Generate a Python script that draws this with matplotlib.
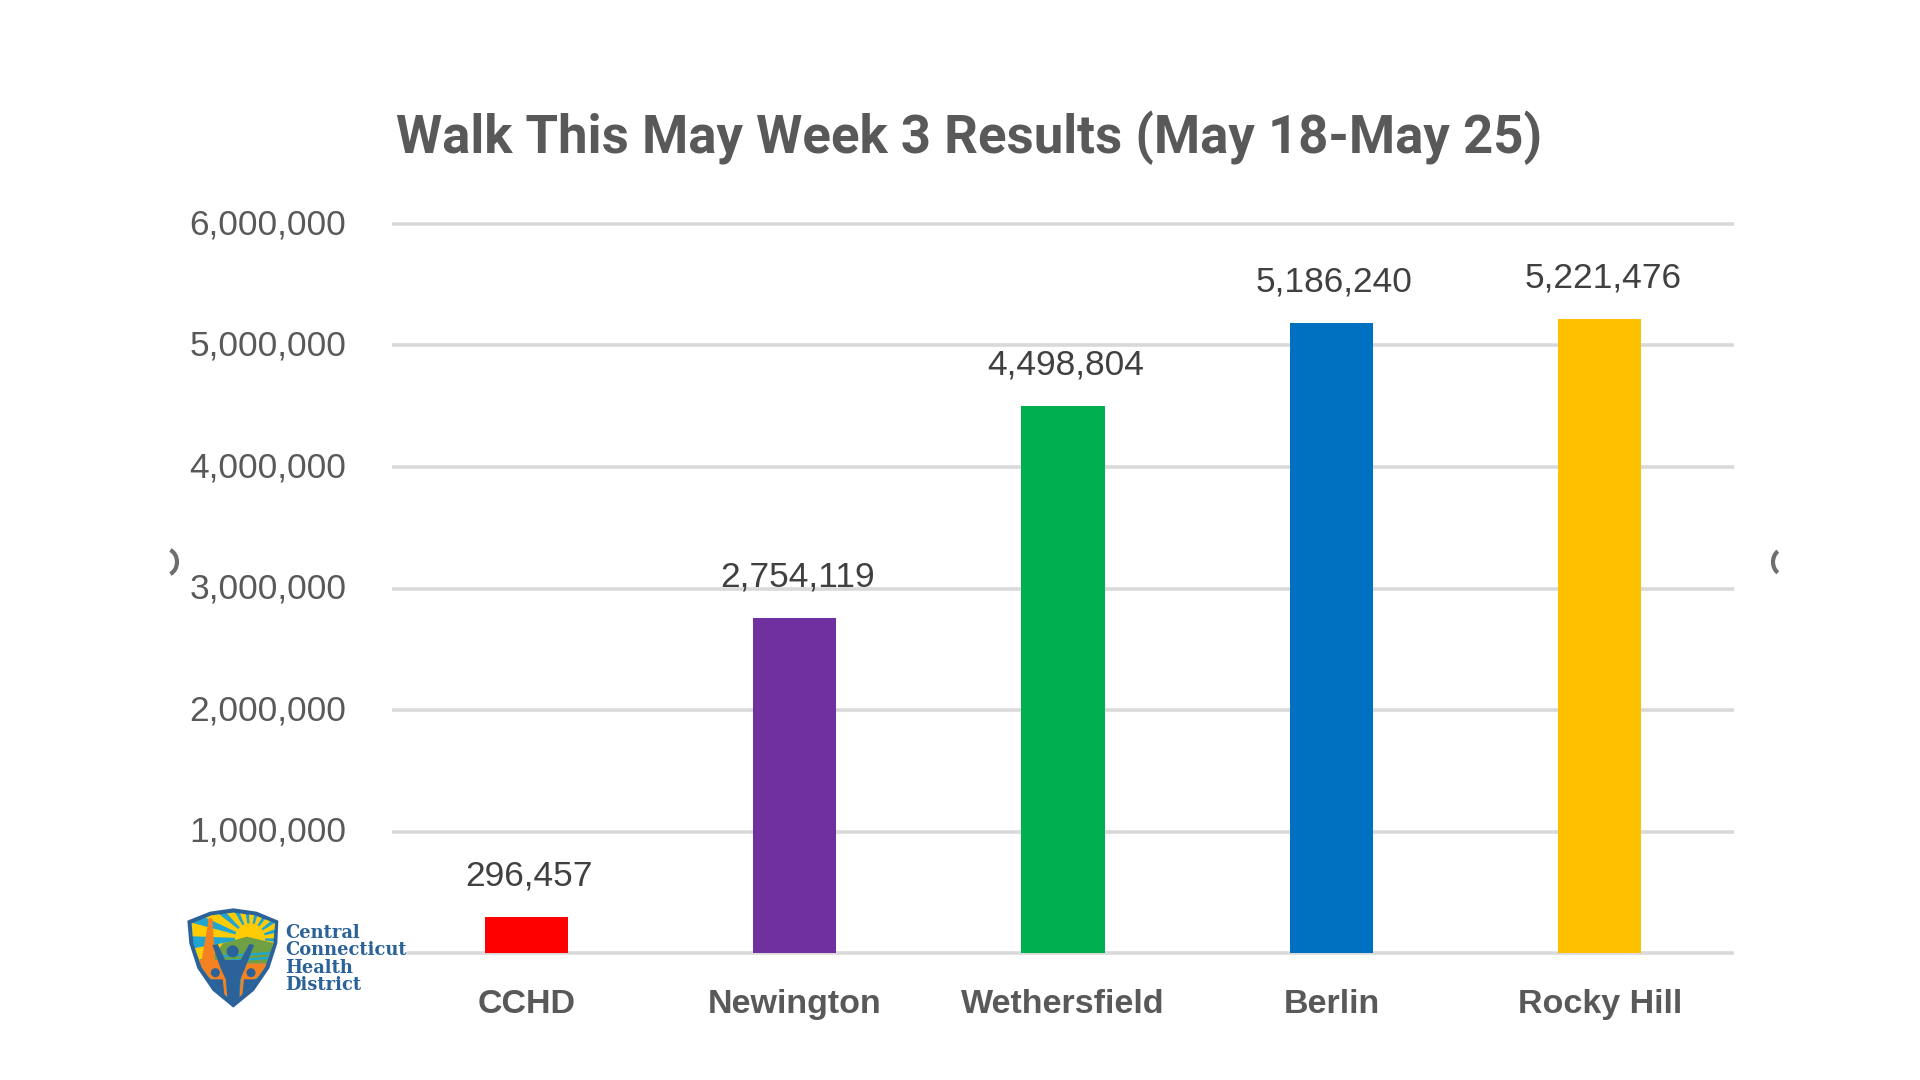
import matplotlib
matplotlib.use("Agg")
import matplotlib.pyplot as plt
from matplotlib.patches import Arc, Circle, Polygon, Wedge
from matplotlib.ticker import FuncFormatter
from matplotlib.transforms import ScaledTranslation

towns = ["CCHD", "Newington", "Wethersfield", "Berlin", "Rocky Hill"]
steps = [296457, 2754119, 4498804, 5186240, 5221476]
bar_colors = ["#FF0000", "#7030A0", "#00B050", "#0070C0", "#FFC000"]
y_ticks = [0, 1000000, 2000000, 3000000, 4000000, 5000000, 6000000]
title = "Walk This May Week 3 Results (May 18-May 25)"
logo_lines = ["Central", "Connecticut", "Health", "District"]

GREY = "#595959"
LOGO_BLUE = "#2B6299"
ORANGE = "#F58220"
YELLOW = "#FFCB05"
SKY = "#1FA5D0"
GREEN = "#6FA043"

W, H = 1920, 1080
fig = plt.figure(figsize=(W / 100, H / 100), dpi=100, facecolor="white")
ax = fig.add_axes([392 / W, (H - 953) / H, (1734 - 392) / W, (953 - 224) / H])

ax.bar(towns, steps, width=0.31, color=bar_colors, zorder=3)
ax.set_xlim(-0.5, 4.5)
ax.set_ylim(0, 6000000)
ax.set_yticks(y_ticks)
ax.yaxis.set_major_formatter(FuncFormatter(lambda v, _: f"{int(v):,}"))

ax.grid(axis="y", color="#D9D9D9", lw=2.6, zorder=0, clip_on=False, solid_capstyle="butt")
ax.set_axisbelow(True)
for s in ax.spines.values():
    s.set_visible(False)
ax.tick_params(axis="both", length=0)
ax.tick_params(axis="y", pad=33, labelsize=25.5, labelcolor=GREY)
ax.tick_params(axis="x", pad=26, labelcolor=GREY)
up = ScaledTranslation(0, 2 / 72, fig.dpi_scale_trans)
for lab in ax.get_yticklabels():
    lab.set_fontfamily("Liberation Sans")
    lab.set_transform(lab.get_transform() + up)
for lab in ax.get_xticklabels():
    lab.set_fontfamily("Liberation Sans")
    lab.set_fontweight("bold")
    lab.set_fontsize(24.5)
ax.get_yticklabels()[0].set_visible(False)

for i, v in enumerate(steps):
    ax.annotate(f"{v:,}", (i, v), xytext=(3, 41), textcoords="offset pixels",
                ha="center", va="center", fontsize=25.5, color="#404040",
                family="Liberation Sans", zorder=5)

fig.text(969 / W, 1 - 138 / H, title, ha="center", va="center", fontsize=38,
         fontweight="bold", family="Roboto", color=GREY)

# overlay in pixel coordinates for the logo and the stray marks at the image edges
ov = fig.add_axes([0, 0, 1, 1], facecolor="none", zorder=10)
ov.set_xlim(0, W)
ov.set_ylim(H, 0)
ov.axis("off")


def lg(x, y):
    # logo was measured on a 3x crop starting at (150, 880)
    return 150 + x / 3, 880 + y / 3


def poly(points, color, z=1, clip=None):
    p = Polygon([lg(*q) for q in points], closed=True, fc=color, ec="none", zorder=z)
    ov.add_patch(p)
    if clip is not None:
        p.set_clip_path(clip)
    return p


# white box hides the start of the baseline behind the logo text
ov.add_patch(Polygon([(180, 915), (407, 915), (407, 1015), (180, 1015)], fc="white", ec="none", zorder=0))

outer = [(112, 122), (180, 95), (250, 85), (320, 95), (385, 122), (382, 190), (358, 265),
         (312, 332), (250, 383), (188, 332), (142, 265), (118, 190)]
inner = [(125, 130), (185, 106), (250, 98), (315, 106), (375, 130), (370, 190), (345, 262),
         (302, 322), (250, 366), (198, 322), (155, 262), (130, 190)]
poly(outer, LOGO_BLUE, 1)
shield = poly(inner, SKY, 2)

sx, sy = lg(300, 175)
for a1, a2 in [(-205, -190), (-178, -165), (-155, -142), (-133, -120), (-112, -100),
               (-92, -80), (-72, -60), (-52, -40), (-32, -20), (-12, 0), (8, 20)]:
    w = Wedge((sx, sy), 90, a1, a2, fc=YELLOW, ec="none", zorder=3)
    ov.add_patch(w)
    w.set_clip_path(shield)
ov.add_patch(Circle((sx, sy), 15, fc=YELLOW, ec="none", zorder=3))

poly([(130, 245), (190, 225), (220, 190), (290, 170), (375, 190), (370, 250), (250, 250)], GREEN, 4, shield)
poly([(215, 225), (375, 215), (372, 222), (215, 232)], SKY, 5, shield)
poly([(215, 240), (365, 230), (362, 237), (215, 247)], SKY, 5, shield)

# orange ground either side of the figure, with thin strips running down
poly([(130, 240), (222, 240), (232, 352), (224, 352), (218, 298), (185, 298), (160, 280)], ORANGE, 5, shield)
poly([(278, 250), (360, 250), (335, 285), (312, 298), (282, 298), (276, 352), (268, 352)], ORANGE, 5, shield)
poly([(155, 240), (175, 125), (188, 125), (195, 240)], ORANGE, 6)
ov.add_patch(Circle(lg(181, 122), 2.5, fc=ORANGE, ec="none", zorder=6))

# blue lower part of the shield
poly([(160, 298), (224, 298), (224, 366), (160, 366)], LOGO_BLUE, 4, shield)
poly([(276, 298), (340, 298), (340, 366), (276, 366)], LOGO_BLUE, 4, shield)

# person with raised arms
poly([(187, 195), (203, 192), (225, 240), (272, 240), (298, 192), (312, 195), (285, 265),
      (270, 300), (268, 352), (250, 372), (232, 352), (228, 300), (212, 265)], LOGO_BLUE, 7)
ov.add_patch(Circle(lg(248, 214), 6, fc=LOGO_BLUE, ec="none", zorder=8))
ov.add_patch(Circle(lg(196, 278), 4.5, fc=LOGO_BLUE, ec="none", zorder=8))
ov.add_patch(Circle(lg(303, 278), 4.5, fc=LOGO_BLUE, ec="none", zorder=8))

for line, zy in zip(logo_lines, [158, 210, 263, 315]):
    tx, ty = lg(405, zy)
    ov.text(tx, ty, line, ha="left", va="center", fontsize=12.9, fontweight="bold",
            family="DejaVu Serif", color=LOGO_BLUE, zorder=9)

ov.add_patch(Arc((166, 562), 22, 26, theta1=-70, theta2=70, ec="#6E6E6E", lw=3))
ov.add_patch(Arc((1784, 562), 22, 26, theta1=120, theta2=240, ec="#6E6E6E", lw=3))

fig.savefig("out.png", dpi=100, facecolor="white")
